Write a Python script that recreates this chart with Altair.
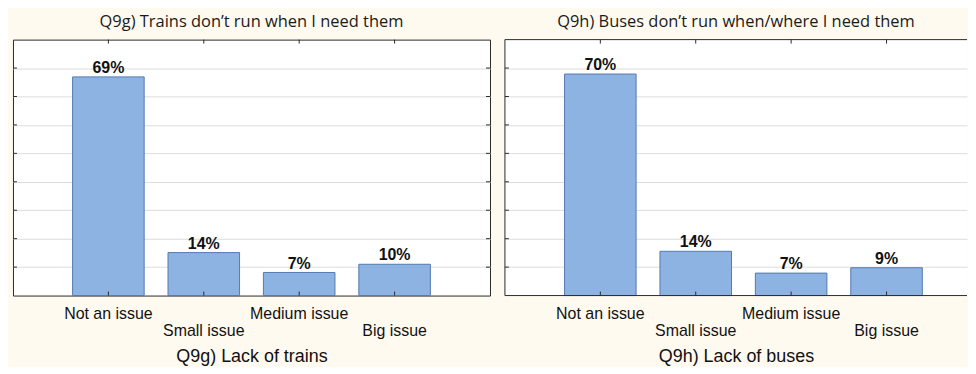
import altair as alt
import pandas as pd

categories = ["Not an issue", "Small issue", "Medium issue", "Big issue"]
trains_values = [69.2, 13.6, 7.3, 9.9]
buses_values = [70.1, 14.0, 7.1, 8.8]
panel_titles = ["Q9g) Trains don\u2019t run when I need them",
                "Q9h) Buses don\u2019t run when/where I need them"]
x_titles = ["Q9g) Lack of trains", "Q9h) Lack of buses"]
grid_values = [9, 18, 27, 36, 45, 54, 63, 72]
y_max = 81

H = 257
BAR_FILL = "#8db3e2"
BAR_STROKE = "#5579b0"
BORDER = "#2a2a2a"


def panel(values, title, xtitle, width, pad_outer, align, open_right=False):
    df = pd.DataFrame({
        "cat": categories,
        "val": values,
        "label": [f"{round(v)}%" for v in values],
    })
    gdf = pd.DataFrame({"g": grid_values})
    one = pd.DataFrame({"k": [0]})

    x = alt.X(
        "cat:N",
        sort=categories,
        scale=alt.Scale(paddingInner=0.25, paddingOuter=pad_outer, align=align),
        axis=alt.Axis(
            title=xtitle,
            labelAngle=0,
            ticks=False,
            domain=False,
            labelFontSize=16,
            labelPadding={
                "condition": {
                    "test": "datum.value === 'Small issue' || datum.value === 'Big issue'",
                    "value": 27,
                },
                "value": 10,
            },
            titleFontSize=18,
            titlePadding=9,
        ),
    )
    yscale = alt.Scale(domain=[0, y_max], nice=False, zero=True)
    yaxis = alt.Axis(values=grid_values, grid=True, labels=False, ticks=False,
                     domain=False, title=None, gridColor="#dddddd", gridWidth=1)

    bars = alt.Chart(df).mark_bar(
        fill=BAR_FILL, stroke=BAR_STROKE, strokeWidth=1
    ).encode(x=x, y=alt.Y("val:Q", scale=yscale, axis=yaxis))

    text = alt.Chart(df).mark_text(
        baseline="alphabetic", dy=-4, fontSize=16, fontWeight="bold",
        font="Liberation Sans", color="#111111"
    ).encode(x=x, y=alt.Y("val:Q", scale=yscale, axis=yaxis), text="label:N")

    xt_bottom = alt.Chart(df).mark_rule(color=BORDER).encode(
        x=x, y=alt.value(H), y2=alt.value(H - 4))
    xt_top = alt.Chart(df).mark_rule(color=BORDER).encode(
        x=x, y=alt.value(0), y2=alt.value(4))
    yt_left = alt.Chart(gdf).mark_rule(color=BORDER).encode(
        y=alt.Y("g:Q", scale=yscale, axis=yaxis), x=alt.value(0), x2=alt.value(4))

    layers = [bars, text, xt_bottom, xt_top, yt_left]
    if open_right:
        b_left = alt.Chart(one).mark_rule(color=BORDER).encode(
            x=alt.value(0), y=alt.value(0), y2=alt.value(H))
        b_top = alt.Chart(one).mark_rule(color=BORDER).encode(
            y=alt.value(0), x=alt.value(0), x2=alt.value(width))
        b_bottom = alt.Chart(one).mark_rule(color=BORDER).encode(
            y=alt.value(H), x=alt.value(0), x2=alt.value(width))
        layers += [b_left, b_top, b_bottom]
    else:
        yt_right = alt.Chart(gdf).mark_rule(color=BORDER).encode(
            y=alt.Y("g:Q", scale=yscale, axis=yaxis), x=alt.value(width),
            x2=alt.value(width - 4))
        layers.append(yt_right)

    props = dict(
        width=width,
        height=H,
        title=alt.TitleParams(
            text=title, font="Open Sans", fontSize=16.5, fontWeight="normal",
            color="#1a1a1a", offset=9, anchor="middle",
        ),
    )
    if open_right:
        props["view"] = alt.ViewBackground(stroke="transparent", fill="white")
    return alt.layer(*layers).properties(**props)


left = panel(trains_values, panel_titles[0], x_titles[0], 479, 0.625, 0.5)
right = panel(buses_values, panel_titles[1], x_titles[1], 464, 0.5467, 0.5716,
              open_right=True)

chart = alt.hconcat(left, right, spacing=13).properties(
    padding={"left": 4, "top": 4, "right": 0, "bottom": 0}
).configure(
    background="#fffaf0"
).configure_view(
    fill="white", stroke=BORDER, strokeWidth=1
).configure_axis(
    labelFont="Liberation Sans", titleFont="Liberation Sans",
    labelColor="#111111", titleColor="#111111", titleFontWeight="normal",
)

chart.save("out.html", embed_options={"renderer": "svg", "actions": False})
